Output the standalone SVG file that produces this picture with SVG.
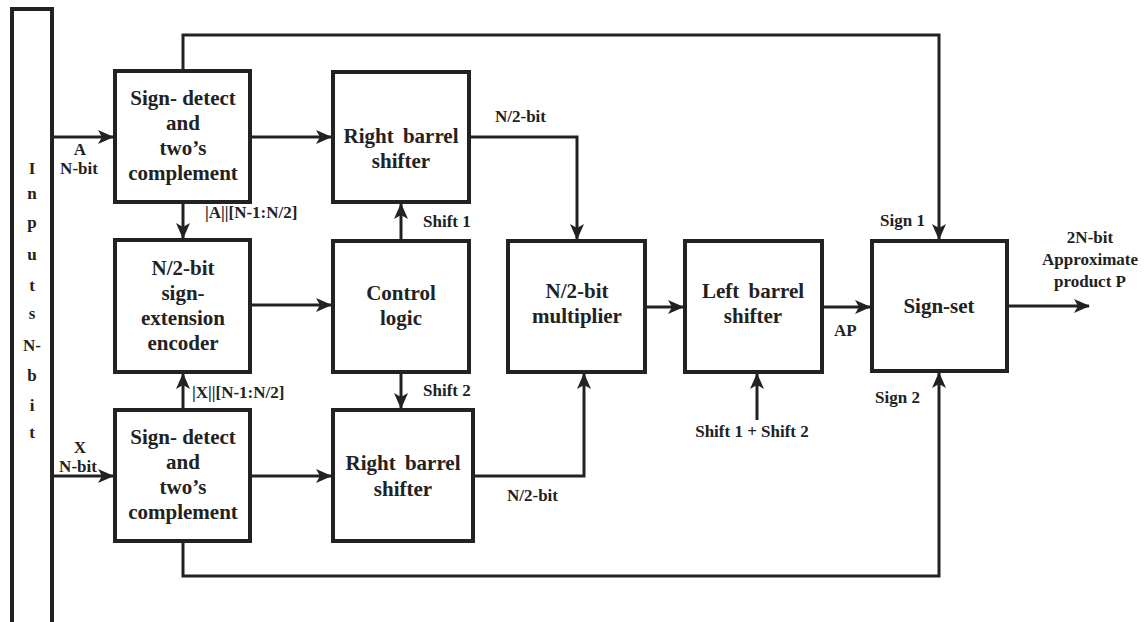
<svg xmlns="http://www.w3.org/2000/svg" width="1145" height="622" viewBox="0 0 1145 622">
<defs>
<marker id="ah" markerUnits="userSpaceOnUse" markerWidth="16" markerHeight="14" viewBox="0 0 16 14" refX="15" refY="7" orient="auto">
<path d="M0,0 L16,7 L0,14 L4,7 Z" fill="#222"/>
</marker>
<style>
.box{fill:#fff;stroke:#222;stroke-width:4}
.ln{fill:none;stroke:#222;stroke-width:3}
.arr{fill:none;stroke:#222;stroke-width:3;marker-end:url(#ah)}
text{font-family:"Liberation Serif","Times New Roman",serif;font-weight:bold;fill:#222}
.bt{font-size:21px;text-anchor:middle}
.ws{word-spacing:4px}
.lb{font-size:17px}
.lc{font-size:17px;text-anchor:middle}
</style>
</defs>
<rect width="1145" height="622" fill="#fff"/>

<g id="connectors">
<polyline class="arr" points="183,71 183,35 939,35 939,239"/>
<polyline class="arr" points="183,541 183,576 939,576 939,373"/>
<line class="arr" x1="52" y1="137" x2="113" y2="137"/>
<line class="arr" x1="52" y1="476" x2="113" y2="476"/>
<line class="arr" x1="183" y1="202" x2="183" y2="238"/>
<line class="arr" x1="183" y1="410" x2="183" y2="374"/>
<line class="arr" x1="250" y1="137" x2="331" y2="137"/>
<line class="arr" x1="250" y1="476" x2="331" y2="476"/>
<line class="arr" x1="250" y1="305" x2="331" y2="305"/>
<line class="arr" x1="401" y1="241" x2="401" y2="204"/>
<line class="arr" x1="401" y1="372" x2="401" y2="408"/>
<polyline class="arr" points="469,137 577,137 577,239"/>
<polyline class="arr" points="473,476 584,476 584,374"/>
<line class="arr" x1="645" y1="307" x2="683" y2="307"/>
<line class="arr" x1="822" y1="307" x2="870" y2="307"/>
<line class="arr" x1="757" y1="420" x2="757" y2="374"/>
<line class="arr" x1="1007" y1="306" x2="1089" y2="306"/>
</g>

<g id="inputs">
<rect class="box" x="12" y="9" width="40" height="640"/>
<text class="lc" x="32" y="174">I</text>
<text class="lc" x="32" y="199">n</text>
<text class="lc" x="32" y="228">p</text>
<text class="lc" x="32" y="260">u</text>
<text class="lc" x="32" y="291">t</text>
<text class="lc" x="32" y="319">s</text>
<text class="lc" x="32" y="351">N-</text>
<text class="lc" x="32" y="381">b</text>
<text class="lc" x="32" y="411">i</text>
<text class="lc" x="32" y="438">t</text>
</g>

<g id="labels">
<text class="lc" x="80" y="155">A</text>
<text class="lc" x="79" y="174">N-bit</text>
<text class="lc" x="80" y="453">X</text>
<text class="lc" x="78" y="472">N-bit</text>
<text class="lb" x="205" y="218">|A||[N-1:N/2]</text>
<text class="lb" x="192" y="398">|X||[N-1:N/2]</text>
<text class="lb" x="423" y="227">Shift 1</text>
<text class="lb" x="423" y="396">Shift 2</text>
<text class="lb" x="495" y="122">N/2-bit</text>
<text class="lb" x="507" y="501">N/2-bit</text>
<text class="lb" x="834" y="336">AP</text>
<text class="lc" x="752" y="437">Shift 1 + Shift 2</text>
<text class="lb" x="880" y="226">Sign 1</text>
<text class="lb" x="875" y="403">Sign 2</text>
<text class="lc" x="1090" y="243">2N-bit</text>
<text class="lc" x="1090" y="265">Approximate</text>
<text class="lc" x="1090" y="287">product P</text>
</g>

<g id="sign-detect-a">
<rect class="box" x="115" y="71" width="135" height="131"/>
<text class="bt" x="183" y="105">Sign- detect</text>
<text class="bt" x="183" y="130">and</text>
<text class="bt" x="183" y="155">two’s</text>
<text class="bt" x="183" y="180">complement</text>
</g>

<g id="encoder">
<rect class="box" x="115" y="240" width="135" height="132"/>
<text class="bt" x="183" y="275">N/2-bit</text>
<text class="bt" x="183" y="300">sign-</text>
<text class="bt" x="183" y="325">extension</text>
<text class="bt" x="183" y="350">encoder</text>
</g>

<g id="sign-detect-x">
<rect class="box" x="115" y="410" width="135" height="131"/>
<text class="bt" x="183" y="444">Sign- detect</text>
<text class="bt" x="183" y="469">and</text>
<text class="bt" x="183" y="494">two’s</text>
<text class="bt" x="183" y="519">complement</text>
</g>

<g id="rbs-top">
<rect class="box" x="333" y="72" width="136" height="130"/>
<text class="bt ws" x="401" y="143">Right barrel</text>
<text class="bt" x="401" y="168">shifter</text>
</g>

<g id="control">
<rect class="box" x="333" y="241" width="136" height="131"/>
<text class="bt" x="401" y="300">Control</text>
<text class="bt" x="401" y="325">logic</text>
</g>

<g id="rbs-bottom">
<rect class="box" x="333" y="410" width="140" height="131"/>
<text class="bt ws" x="403" y="470">Right barrel</text>
<text class="bt" x="403" y="496">shifter</text>
</g>

<g id="multiplier">
<rect class="box" x="508" y="241" width="137" height="131"/>
<text class="bt" x="577" y="298">N/2-bit</text>
<text class="bt" x="577" y="323">multiplier</text>
</g>

<g id="left-shifter">
<rect class="box" x="685" y="241" width="137" height="131"/>
<text class="bt ws" x="753" y="298">Left barrel</text>
<text class="bt" x="753" y="323">shifter</text>
</g>

<g id="sign-set">
<rect class="box" x="872" y="241" width="135" height="130"/>
<text class="bt" x="939" y="313">Sign-set</text>
</g>
</svg>
